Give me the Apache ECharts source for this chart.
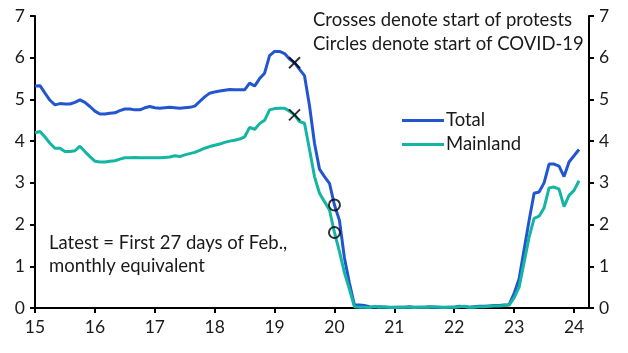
<!DOCTYPE html>
<html>
<head>
<meta charset="utf-8">
<script src="https://cdn.jsdelivr.net/npm/echarts@6/dist/echarts.min.js"></script>
<style>
  html, body { margin: 0; padding: 0; background: #fff; }
  #chart { width: 628px; height: 353px; }
</style>
</head>
<body>
<div id="chart"></div>
<script>
  // monthly series, Jan 2015 .. Feb 2024
  var startYear = 15
  var yearTicks = [15, 16, 17, 18, 19, 20, 21, 22, 23, 24]

  var total = [
    5.32, 5.33, 5.15, 4.98, 4.87, 4.90, 4.89, 4.89, 4.93, 4.99, 4.93, 4.83,
    4.72, 4.65, 4.65, 4.67, 4.68, 4.73, 4.77, 4.77, 4.75, 4.75, 4.80, 4.83,
    4.80, 4.79, 4.80, 4.81, 4.80, 4.79, 4.80, 4.81, 4.84, 4.95, 5.06, 5.15,
    5.18, 5.20, 5.22, 5.24, 5.23, 5.23, 5.23, 5.39, 5.32, 5.50, 5.63, 6.05,
    6.15, 6.15, 6.10, 5.97, 5.88, 5.72, 5.57, 4.85, 3.95, 3.33, 3.15, 2.99,
    2.47, 2.10, 1.20, 0.60, 0.07, 0.07, 0.06, 0.03, 0.02, 0.03, 0.02, 0.01,
    0.02, 0.02, 0.02, 0.03, 0.02, 0.02, 0.02, 0.03, 0.02, 0.02, 0.01, 0.02,
    0.02, 0.04, 0.03, 0.02, 0.03, 0.04, 0.04, 0.05, 0.06, 0.06, 0.07, 0.08,
    0.35, 0.70, 1.40, 2.10, 2.75, 2.78, 3.00, 3.45, 3.45, 3.40, 3.15, 3.50,
    3.65, 3.80
  ]

  var mainland = [
    4.20, 4.23, 4.10, 3.95, 3.83, 3.83, 3.75, 3.75, 3.77, 3.88, 3.75, 3.63,
    3.52, 3.50, 3.50, 3.52, 3.53, 3.57, 3.60, 3.60, 3.61, 3.60, 3.60, 3.60,
    3.60, 3.60, 3.61, 3.62, 3.65, 3.63, 3.67, 3.70, 3.73, 3.78, 3.83, 3.87,
    3.90, 3.93, 3.97, 4.00, 4.02, 4.05, 4.10, 4.33, 4.28, 4.42, 4.50, 4.75,
    4.78, 4.79, 4.79, 4.72, 4.63, 4.47, 4.43, 3.80, 3.15, 2.75, 2.55, 2.35,
    1.81, 1.35, 0.85, 0.45, 0.03, 0.02, 0.02, 0.01, 0.04, 0.02, 0.03, 0.02,
    0.01, 0.02, 0.02, 0.02, 0.01, 0.02, 0.02, 0.02, 0.03, 0.02, 0.02, 0.02,
    0.02, 0.03, 0.04, 0.02, 0.02, 0.03, 0.03, 0.04, 0.05, 0.05, 0.06, 0.07,
    0.25, 0.50, 1.10, 1.70, 2.15, 2.20, 2.40, 2.88, 2.90, 2.85, 2.43, 2.70,
    2.82, 3.05
  ]

  // month index of the markers
  var protestIdx = 52   // crosses
  var covidIdx = 60     // circles

  var FONT = 'Lato'
  var TXT = '#1a1a1a'
  var NOTE = 18.5

  function toXY(arr) {
    return arr.map(function (v, i) { return [startYear + i / 12, v] })
  }
  function pt(arr, i) { return [startYear + i / 12, arr[i]] }

  var yAxisBase = {
    type: 'value', min: 0, max: 7, interval: 1,
    splitLine: { show: false },
    axisLine: { show: true, lineStyle: { color: '#000', width: 2 } },
    axisTick: { show: true, inside: false, length: 5, lineStyle: { color: '#000', width: 2 } },
    axisLabel: { color: TXT, fontSize: 17.5, fontFamily: FONT, margin: 10 }
  }

  var chart = echarts.init(document.getElementById('chart'), null, { renderer: 'canvas' })
  chart.setOption({
    animation: false,
    backgroundColor: '#fff',
    grid: { left: 35, right: 39, top: 16, bottom: 45, containLabel: false },
    legend: {
      data: ['Total', 'Mainland'],
      orient: 'vertical',
      left: 397, top: 106,
      itemWidth: 42, itemHeight: 3, itemGap: 5,
      icon: 'rect',
      textStyle: { color: TXT, fontSize: NOTE, fontFamily: FONT, padding: [0, 0, 0, -3] }
    },
    xAxis: {
      type: 'value', min: 15, max: 24.25, interval: 1,
      splitLine: { show: false },
      axisLine: { show: true, onZero: false, lineStyle: { color: '#000', width: 2 } },
      axisTick: { show: true, inside: false, length: 5, lineStyle: { color: '#000', width: 2 },
        customValues: yearTicks },
      axisLabel: { color: TXT, fontSize: 17.5, fontFamily: FONT, margin: 10,
        customValues: yearTicks, formatter: function (v) { return String(v) } }
    },
    yAxis: [
      Object.assign({}, yAxisBase, { position: 'left' }),
      Object.assign({}, yAxisBase, { position: 'right' })
    ],
    graphic: [
      { type: 'text', left: 313, top: 11, style: { text: 'Crosses denote start of protests', fill: TXT, fontSize: NOTE, fontFamily: FONT } },
      { type: 'text', left: 313, top: 35, style: { text: 'Circles denote start of COVID-19', fill: TXT, fontSize: NOTE, fontFamily: FONT } },
      { type: 'text', left: 49, top: 234, style: { text: 'Latest = First 27 days of Feb.,', fill: TXT, fontSize: NOTE, fontFamily: FONT } },
      { type: 'text', left: 49, top: 257, style: { text: 'monthly equivalent', fill: TXT, fontSize: NOTE, fontFamily: FONT } }
    ],
    series: [
      {
        name: 'Total', type: 'line', data: toXY(total),
        showSymbol: false, symbol: 'none',
        lineStyle: { color: '#2256d1', width: 3 }, itemStyle: { color: '#2256d1' }
      },
      {
        name: 'Mainland', type: 'line', data: toXY(mainland),
        showSymbol: false, symbol: 'none',
        lineStyle: { color: '#14b5a2', width: 3 }, itemStyle: { color: '#14b5a2' }
      },
      {
        name: 'protests', type: 'scatter', z: 5,
        data: [pt(total, protestIdx), pt(mainland, protestIdx)],
        symbol: 'path://M0,0L10,10M10,0L0,10', symbolSize: 11,
        itemStyle: { color: 'none', borderColor: '#000', borderWidth: 2 }
      },
      {
        name: 'covid', type: 'scatter', z: 5,
        data: [pt(total, covidIdx), pt(mainland, covidIdx)],
        symbol: 'circle', symbolSize: 11,
        itemStyle: { color: 'rgba(0,0,0,0)', borderColor: '#000', borderWidth: 2 }
      }
    ]
  })
</script>
</body>
</html>
